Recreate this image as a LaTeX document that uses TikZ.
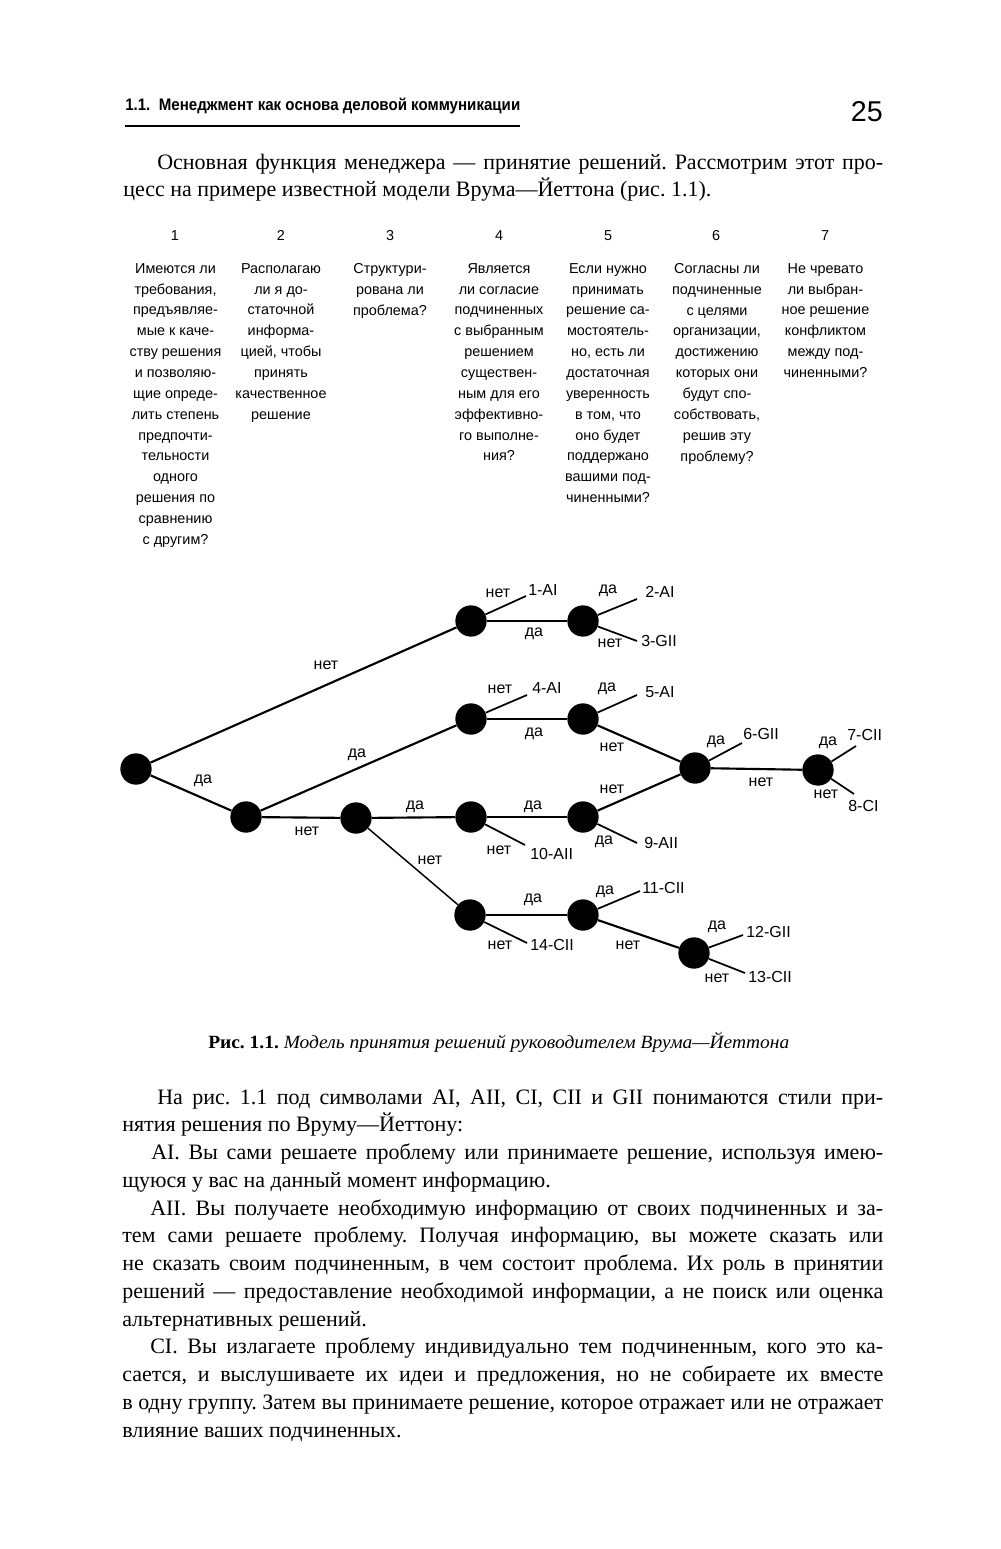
\documentclass[tikz,border=0pt]{standalone}
\usepackage{fontspec}
\usepackage{graphicx}
\setmainfont{Liberation Serif}
\newfontfamily\sansf{Liberation Sans}
\frenchspacing
\newcommand\fitw[2]{\resizebox{\dimexpr #1pt*3/4\relax}{\height}{#2}}
\newcommand\justw[2]{\makebox[\dimexpr #1pt*3/4\relax][s]{#2}}
\newcommand\bodyfont{\fontsize{16.5}{19}\selectfont\frenchspacing}
\tikzset{
  bodyline/.style={anchor=base west, inner sep=0pt, font=\bodyfont},
  colnum/.style={anchor=base, inner sep=0pt, font=\sansf\fontsize{10.8}{13}\selectfont},
  coltext/.style={anchor=north, inner sep=0pt, align=center, font=\sansf\fontsize{10.8}{15.64}\selectfont},
  dot/.style={circle, fill=black, minimum size=23.5pt, inner sep=0pt},
  edge/.style={line width=1.6pt},
  thinedge/.style={line width=1.1pt},
  leafedge/.style={line width=1.3pt},
  lbl/.style={inner sep=0pt, font=\sansf\fontsize{12}{14}\selectfont},
  leaf/.style={anchor=west, inner sep=0pt, font=\sansf\fontsize{12}{14}\selectfont}
}
\begin{document}
\begin{tikzpicture}[x=0.75pt,y=-0.75pt]
\fill[white] (0,0) rectangle (1000,1549);
\useasboundingbox (0,0) rectangle (1000,1549);

% header
\node[anchor=base west, inner sep=0pt, font=\sansf\fontsize{12.5}{14}\selectfont] (hdr) at (125,110)
  {\fitw{395}{\bfseries 1.1.\ \ Менеджмент как основа деловой коммуникации}};
\draw[line width=1.9pt] (125,126) -- (520,126);
\node[anchor=base east, inner sep=0pt, font=\sansf\fontsize{21.5}{24}\selectfont] (pg) at (883,121) {25};

% first paragraph
\node[bodyline] (p1a) at (157,169) {\justw{726}{Основная функция менеджера — принятие решений. Рассмотрим этот про-}};
\node[bodyline] (p1b) at (123,196.5) {цесс на примере известной модели Врума—Йеттона (рис. 1.1).};

% column numbers
\node[colnum] (n1) at (175,240) {1};
\node[colnum] (n2) at (281,240) {2};
\node[colnum] (n3) at (390,240) {3};
\node[colnum] (n4) at (499,240) {4};
\node[colnum] (n5) at (608,240) {5};
\node[colnum] (n6) at (716,240) {6};
\node[colnum] (n7) at (825,240) {7};

% column texts
\node[coltext] (q1) at (175.5,263) {Имеются ли\\требования,\\предъявляе-\\мые к каче-\\ству решения\\и позволяю-\\щие опреде-\\лить степень\\предпочти-\\тельности\\одного\\решения по\\сравнению\\с другим?};
\node[coltext] (q2) at (281,263) {Располагаю\\ли я до-\\статочной\\информа-\\цией, чтобы\\принять\\качественное\\решение};
\node[coltext] (q3) at (390,263) {Структури-\\рована ли\\проблема?};
\node[coltext] (q4) at (499,263) {Является\\ли согласие\\подчиненных\\с выбранным\\решением\\существен-\\ным для его\\эффективно-\\го выполне-\\ния?};
\node[coltext] (q5) at (608,263) {Если нужно\\принимать\\решение са-\\мостоятель-\\но, есть ли\\достаточная\\уверенность\\в том, что\\оно будет\\поддержано\\вашими под-\\чиненными?};
\node[coltext] (q6) at (717,263) {Согласны ли\\подчиненные\\с целями\\организации,\\достижению\\которых они\\будут спо-\\собствовать,\\решив эту\\проблему?};
\node[coltext] (q7) at (825.5,263) {Не чревато\\ли выбран-\\ное решение\\конфликтом\\между под-\\чиненными?};

% tree nodes
\node[dot] (A) at (136,769) {};
\node[dot] (B) at (246,817) {};
\node[dot] (C) at (356,818) {};
\node[dot] (D) at (471,621) {};
\node[dot] (E) at (583,621) {};
\node[dot] (F) at (471,719) {};
\node[dot] (G) at (583,719) {};
\node[dot] (H) at (471,817) {};
\node[dot] (I) at (583,817) {};
\node[dot] (J) at (695,768) {};
\node[dot] (K) at (818,770) {};
\node[dot] (L) at (470,915) {};
\node[dot] (M) at (583,915) {};
\node[dot] (N) at (694,953) {};

% main edges
\draw[edge] (A) -- (D);
\draw[edge] (A) -- (B);
\draw[edge] (B) -- (F);
\draw[edge] (B) -- (C);
\draw[edge] (C) -- (H);
\draw[thinedge] (C) -- (L);
\draw[edge] (D) -- (E);
\draw[edge] (F) -- (G);
\draw[edge] (G) -- (J);
\draw[edge] (H) -- (I);
\draw[edge] (I) -- (J);
\draw[edge] (J) -- (K);
\draw[edge] (L) -- (M);
\draw[edge] (M) -- (N);

% leaf ends
\coordinate (e1) at (526,596);
\coordinate (e2) at (637,599);
\coordinate (e3) at (637,641);
\coordinate (e4) at (527,695);
\coordinate (e5) at (637,695);
\coordinate (e6) at (742,743);
\coordinate (e7) at (856,746);
\coordinate (e8) at (854,794);
\coordinate (e9) at (637,843);
\coordinate (e10) at (525,845);
\coordinate (e11) at (640,891);
\coordinate (e12) at (743,935);
\coordinate (e13) at (745,973);
\coordinate (e14) at (527,943);
\draw[leafedge] (D) -- (e1);
\draw[leafedge] (E) -- (e2);
\draw[leafedge] (E) -- (e3);
\draw[leafedge] (F) -- (e4);
\draw[leafedge] (G) -- (e5);
\draw[leafedge] (J) -- (e6);
\draw[leafedge] (K) -- (e7);
\draw[leafedge] (K) -- (e8);
\draw[leafedge] (I) -- (e9);
\draw[leafedge] (H) -- (e10);
\draw[leafedge] (M) -- (e11);
\draw[leafedge] (N) -- (e12);
\draw[leafedge] (N) -- (e13);
\draw[leafedge] (L) -- (e14);

% leaf labels
\node[leaf] (t1) at (528,590) {1-AI};
\node[leaf] (t2) at (645,592) {2-AI};
\node[leaf] (t3) at (641,641) {3-GII};
\node[leaf] (t4) at (532,688) {4-AI};
\node[leaf] (t5) at (645,692) {5-AI};
\node[leaf] (t6) at (743,734) {6-GII};
\node[leaf] (t7) at (847,735) {7-CII};
\node[leaf] (t8) at (848,806) {8-CI};
\node[leaf] (t9) at (644,843) {9-AII};
\node[leaf] (t10) at (530,854) {10-AII};
\node[leaf] (t11) at (642,888) {11-CII};
\node[leaf] (t12) at (746,932) {12-GII};
\node[leaf] (t13) at (748,977) {13-CII};
\node[leaf] (t14) at (530,945) {14-CII};

% edge labels
\node[lbl] (lAD) at (326,665) {нет};
\node[lbl] (lAB) at (203,781) {да};
\node[lbl] (lBF) at (357,755) {да};
\node[lbl] (lBC) at (307,831) {нет};
\node[lbl] (lCH) at (415,807) {да};
\node[lbl] (lCL) at (430,860) {нет};
\node[lbl] (lD1) at (498,593) {нет};
\node[lbl] (lDE) at (534,634) {да};
\node[lbl] (lE2) at (608,591) {да};
\node[lbl] (lE3) at (610,643) {нет};
\node[lbl] (lF4) at (500,689) {нет};
\node[lbl] (lFG) at (534,734) {да};
\node[lbl] (lG5) at (607,689) {да};
\node[lbl] (lGJ) at (612,747) {нет};
\node[lbl] (lJ6) at (716,742) {да};
\node[lbl] (lJK) at (761,782) {нет};
\node[lbl] (lK7) at (828,743) {да};
\node[lbl] (lK8) at (826,794) {нет};
\node[lbl] (lHI) at (533,807) {да};
\node[lbl] (lH10) at (499,850) {нет};
\node[lbl] (lIJ) at (612,789) {нет};
\node[lbl] (lI9) at (604,842) {да};
\node[lbl] (lLM) at (533,900) {да};
\node[lbl] (lL14) at (500,945) {нет};
\node[lbl] (lM11) at (605,892) {да};
\node[lbl] (lMN) at (628,945) {нет};
\node[lbl] (lN12) at (717,927) {да};
\node[lbl] (lN13) at (717,978) {нет};

% caption
\node[anchor=base west, inner sep=0pt, font=\fontsize{14}{16}\selectfont] (cap) at (208,1048)
  {\fitw{581}{\textbf{Рис. 1.1.} \textit{Модель принятия решений руководителем Врума—Йеттона}}};

% bottom text
\node[bodyline] (b0) at (157,1104) {\justw{726}{На рис. 1.1 под символами AI, AII, CI, CII и GII понимаются стили при-}};
\node[bodyline] (b1) at (122,1131.75) {нятия решения по Вруму—Йеттону:};
\node[bodyline] (b2) at (151,1159.5) {\justw{732}{AI. Вы сами решаете проблему или принимаете решение, используя имею-}};
\node[bodyline] (b3) at (122,1187.25) {щуюся у вас на данный момент информацию.};
\node[bodyline] (b4) at (150,1215) {\justw{733}{AII. Вы получаете необходимую информацию от своих подчиненных и за-}};
\node[bodyline] (b5) at (122,1242.75) {\justw{761}{тем сами решаете проблему. Получая информацию, вы можете сказать или}};
\node[bodyline] (b6) at (122,1270.5) {\justw{761}{не сказать своим подчиненным, в чем состоит проблема. Их роль в принятии}};
\node[bodyline] (b7) at (122,1298.25) {\justw{761}{решений — предоставление необходимой информации, а не поиск или оценка}};
\node[bodyline] (b8) at (122,1326) {альтернативных решений.};
\node[bodyline] (b9) at (150,1353.75) {\justw{733}{CI. Вы излагаете проблему индивидуально тем подчиненным, кого это ка-}};
\node[bodyline] (b10) at (122,1381.5) {\justw{761}{сается, и выслушиваете их идеи и предложения, но не собираете их вместе}};
\node[bodyline] (b11) at (122,1409.25) {\justw{761}{в одну группу. Затем вы принимаете решение, которое отражает или не отражает}};
\node[bodyline] (b12) at (122,1437) {влияние ваших подчиненных.};
\end{tikzpicture}
\end{document}
